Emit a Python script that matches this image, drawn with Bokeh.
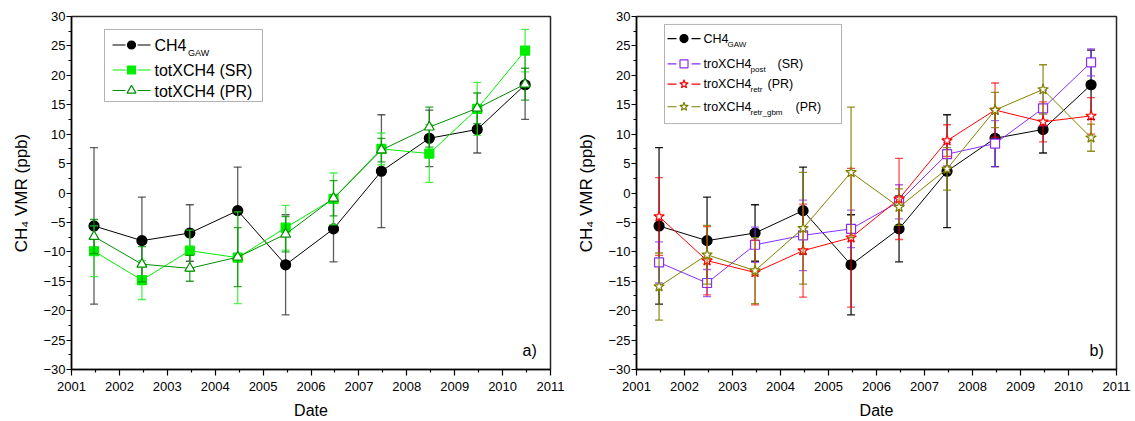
import numpy as np
from bokeh.plotting import figure
from bokeh.layouts import row
from bokeh.models import Label, BoxAnnotation, FixedTicker, Range1d
from bokeh.embed import file_html
from bokeh.resources import INLINE

# ---------------- data ----------------
dates = [2001.47, 2002.47, 2003.47, 2004.47, 2005.47,
         2006.47, 2007.47, 2008.47, 2009.47, 2010.47]

ch4_gaw = [-5.6, -8.1, -6.8, -3.0, -12.2, -6.1, 3.7, 9.3, 10.8, 18.4]
ch4_gaw_err = [13.3, 7.4, 4.8, 7.4, 8.5, 5.6, 9.6, 4.8, 4.0, 5.9]

tot_sr = [-9.9, -14.8, -9.8, -11.0, -5.9, -1.0, 7.5, 6.7, 14.3, 24.2]
tot_sr_err = [4.3, 3.3, 3.5, 7.8, 3.8, 4.4, 2.7, 4.9, 4.5, 3.6]

tot_pr = [-7.4, -12.1, -12.8, -10.9, -7.0, -0.9, 7.3, 11.2, 14.4, 18.5]
tot_pr_err = [2.9, 3.0, 2.2, 5.0, 3.0, 3.0, 2.0, 3.4, 2.6, 2.7]

tro_post = [-11.8, -15.3, -8.8, -7.2, -6.1, -1.5, 6.6, 8.4, 14.4, 22.2]
tro_post_err = [3.5, 2.3, 3.0, 6.0, 3.2, 2.9, 2.0, 3.9, 3.0, 2.3]

tro_retr = [-4.0, -11.5, -13.5, -9.8, -7.6, -1.0, 8.9, 14.1, 12.1, 13.1]
tro_retr_err = [6.6, 5.8, 5.5, 7.9, 11.8, 6.9, 2.7, 4.6, 3.4, 3.1]

tro_gbm = [-15.9, -10.5, -13.2, -6.0, 3.5, -2.4, 4.1, 14.1, 17.6, 9.4]
tro_gbm_err = [5.7, 5.0, 5.6, 9.5, 11.1, 3.1, 3.6, 3.0, 4.2, 2.3]

x_ticks = [2001, 2002, 2003, 2004, 2005, 2006, 2007, 2008, 2009, 2010, 2011]
y_ticks = [-30, -25, -20, -15, -10, -5, 0, 5, 10, 15, 20, 25, 30]

FONT = "Liberation Sans"
BLACK = "#000000"
LIME = "#00ee00"
GREEN = "#009000"
PURPLE = "#8a2cff"
RED = "#ff0000"
OLIVE = "#808000"


def make_fig(width, bl, br, bt, bb):
    p = figure(width=width, height=421, x_range=Range1d(2001, 2011),
               y_range=Range1d(-30, 30), output_backend="svg",
               toolbar_location=None, min_border_left=bl, min_border_right=br,
               min_border_top=bt, min_border_bottom=bb,
               background_fill_color="white", border_fill_color="white")
    p.xgrid.visible = False
    p.ygrid.visible = False
    p.outline_line_color = "black"
    p.outline_line_width = 1.5
    p.outline_line_alpha = 0.85
    p.xaxis.ticker = FixedTicker(ticks=x_ticks,
                                 minor_ticks=list(np.arange(2001.5, 2011, 1.0)))
    p.yaxis.ticker = FixedTicker(ticks=y_ticks,
                                 minor_ticks=list(np.arange(-27.5, 30, 5.0)))
    for ax in (p.xaxis[0], p.yaxis[0]):
        ax.axis_line_width = 1.5
        ax.axis_line_color = "black"
        ax.major_tick_line_width = 1.2
        ax.minor_tick_line_width = 1.2
        ax.major_tick_in = 0
        ax.minor_tick_in = 0
        ax.major_tick_out = 5
        ax.minor_tick_out = 3
        ax.major_label_text_font = FONT
        ax.major_label_text_font_size = "13px"
        ax.major_label_text_color = "black"
        ax.axis_label_text_font = FONT
        ax.axis_label_text_font_size = "16px"
        ax.axis_label_text_font_style = "normal"
        ax.axis_label_text_color = "black"
    p.xaxis.major_tick_out = 6
    p.xaxis.major_label_standoff = 6
    p.yaxis.major_label_standoff = 1
    p.xaxis.axis_label = "Date"
    p.xaxis.axis_label_standoff = 8
    p.yaxis.axis_label = "CH\u2084 VMR (ppb)"
    p.yaxis.axis_label_text_font_size = "17px"
    p.yaxis.axis_label_standoff = 9
    return p


def series(p, vals, errs, color, marker, size, fill, err_color, err_alpha, lw=1.0):
    v = np.array(vals)
    e = np.array(errs)
    lo, hi = v - e, v + e
    p.segment(x0=dates, y0=lo, x1=dates, y1=hi, line_color=err_color,
              line_alpha=err_alpha, line_width=1.3)
    p.scatter(dates + dates, list(lo) + list(hi), marker="dash", size=8,
              line_color=err_color, line_alpha=err_alpha, line_width=1.3)
    p.line(dates, vals, line_color=color, line_width=lw)
    p.scatter(dates, vals, marker=marker, size=size, fill_color=fill,
              line_color=color, line_width=1.2)


class Geo:
    def __init__(self, fx, fw, fy, fh):
        self.fx, self.fw, self.fy, self.fh = fx, fw, fy, fh

    def x(self, px):
        return 2001 + (px - self.fx) / self.fw * 10.0

    def y(self, py):
        return 30 - (py - self.fy) / self.fh * 60.0


def legend_row(p, g, seg, mx, my, color, marker, msize, fill):
    (a0, a1), (b0, b1) = seg
    p.segment(x0=[g.x(a0), g.x(b0)], y0=[g.y(my)] * 2,
              x1=[g.x(a1), g.x(b1)], y1=[g.y(my)] * 2,
              line_color=color, line_width=1.2)
    p.scatter([g.x(mx)], [g.y(my)], marker=marker, size=msize,
              fill_color=fill, line_color=color, line_width=1.2)


def text(p, g, px, py, s, size):
    p.add_layout(Label(x=g.x(px), y=g.y(py), text=s, text_font=FONT,
                       text_font_size=size, text_baseline="middle",
                       text_align="left", text_color="black"))


# ---------------- left panel ----------------
pl = make_fig(570, 71, 20, 16, 52)
gl = Geo(71, 479, 16, 353)
series(pl, ch4_gaw, ch4_gaw_err, BLACK, "circle", 10, BLACK, "#333333", 0.8)
series(pl, tot_sr, tot_sr_err, LIME, "square", 9, LIME, "#22ee22", 0.8)
series(pl, tot_pr, tot_pr_err, GREEN, "triangle", 10, "white", GREEN, 0.8)

pl.add_layout(BoxAnnotation(left=gl.x(104), right=gl.x(262), top=gl.y(29),
                            bottom=gl.y(101), fill_color="white", fill_alpha=1,
                            line_color="black", line_width=1, level="underlay"))
lseg = ((112, 125), (137, 150))
legend_row(pl, gl, lseg, 131, 44.5, BLACK, "circle", 8, BLACK)
legend_row(pl, gl, lseg, 131, 69.5, LIME, "square", 8, LIME)
legend_row(pl, gl, lseg, 131, 90, GREEN, "triangle", 9, "white")
text(pl, gl, 154, 45, "CH4", "16px")
text(pl, gl, 187.5, 52.5, "GAW", "9px")
text(pl, gl, 154, 70, "totXCH4 (SR)", "16px")
text(pl, gl, 154, 90.5, "totXCH4 (PR)", "16px")
text(pl, gl, 522, 349.5, "a)", "16px")

# ---------------- right panel ----------------
pr = make_fig(565, 66, 19, 13, 52)
gr = Geo(66, 480, 13, 356)
series(pr, ch4_gaw, ch4_gaw_err, BLACK, "circle", 10, BLACK, BLACK, 0.9)
series(pr, tro_post, tro_post_err, PURPLE, "square", 9, "white", PURPLE, 0.75)
series(pr, tro_retr, tro_retr_err, RED, "star", 11, "white", RED, 0.7)
series(pr, tro_gbm, tro_gbm_err, OLIVE, "star", 11, "white", OLIVE, 0.85)

o = 570  # page offset of right panel
pr.add_layout(BoxAnnotation(left=gr.x(664 - o), right=gr.x(841 - o),
                            top=gr.y(21), bottom=gr.y(121), fill_color="white",
                            fill_alpha=1, line_color="black", line_width=1,
                            level="underlay"))
rseg = ((667 - o, 676 - o), (691 - o, 700 - o))
legend_row(pr, gr, rseg, 683.5 - o, 35.3, BLACK, "circle", 8, BLACK)
legend_row(pr, gr, rseg, 683.5 - o, 60.7, PURPLE, "square", 8, "white")
legend_row(pr, gr, rseg, 683.5 - o, 81.3, RED, "star", 9, "white")
legend_row(pr, gr, rseg, 683.5 - o, 104, OLIVE, "star", 9, "white")
text(pr, gr, 703 - o, 35.5, "CH4", "12.5px")
text(pr, gr, 727 - o, 41, "GAW", "8px")
text(pr, gr, 703 - o, 61, "troXCH4", "12.5px")
text(pr, gr, 750 - o, 66.5, "post", "8px")
text(pr, gr, 777 - o, 61, "(SR)", "12.5px")
text(pr, gr, 703 - o, 81.5, "troXCH4", "12.5px")
text(pr, gr, 750 - o, 87, "retr", "8px")
text(pr, gr, 767 - o, 81.5, "(PR)", "12.5px")
text(pr, gr, 703 - o, 104, "troXCH4", "12.5px")
text(pr, gr, 750 - o, 109.5, "retr_gbm", "8px")
text(pr, gr, 795 - o, 104, "(PR)", "12.5px")
text(pr, gr, 1089 - o, 349.5, "b)", "16px")

layout = row(pl, pr)
open("out.html", "w").write(file_html(layout, INLINE))
